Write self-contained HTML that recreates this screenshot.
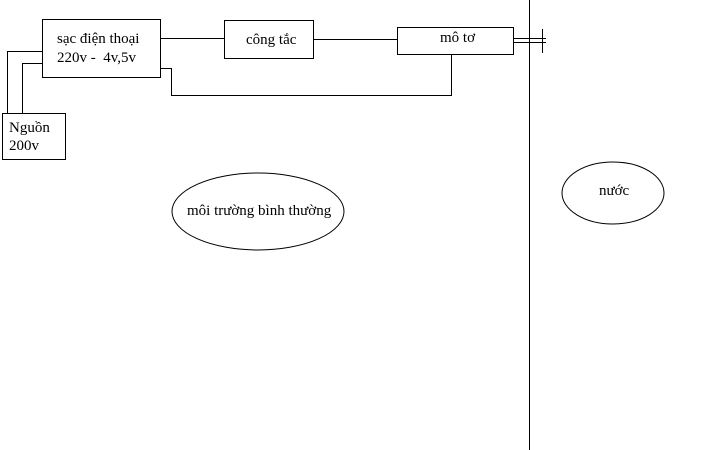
<!DOCTYPE html>
<html>
<head>
<meta charset="utf-8">
<style>
  html, body { margin: 0; padding: 0; background: #fff; }
  svg { display: block; }
  text { font-family: "Liberation Serif", "DejaVu Serif", serif; font-size: 15px; fill: #000; }
</style>
</head>
<body>
<svg width="720" height="450" viewBox="0 0 720 450" xmlns="http://www.w3.org/2000/svg">
  <g fill="none" stroke="#000" stroke-width="1" shape-rendering="crispEdges">
    <!-- sạc box -->
    <rect x="42.5" y="19.5" width="118" height="58"/>
    <!-- Nguồn box -->
    <rect x="2.5" y="113.5" width="63" height="46"/>
    <!-- công tắc box -->
    <rect x="224.5" y="20.5" width="89" height="38"/>
    <!-- mô tơ box -->
    <rect x="397.5" y="27.5" width="116" height="27"/>
    <!-- left connectors -->
    <polyline points="42,51.5 7.5,51.5 7.5,113"/>
    <polyline points="42,63.5 22.5,63.5 22.5,113"/>
    <!-- sạc -> công tắc -->
    <line x1="160" y1="38.5" x2="224" y2="38.5"/>
    <!-- công tắc -> mô tơ -->
    <line x1="313" y1="39.5" x2="397" y2="39.5"/>
    <!-- return line -->
    <polyline points="160,68.5 171.5,68.5 171.5,95.5 451.5,95.5 451.5,54"/>
    <!-- shaft -->
    <line x1="513" y1="38.5" x2="546" y2="38.5"/>
    <line x1="513" y1="42.5" x2="546" y2="42.5"/>
    <line x1="542.5" y1="29" x2="542.5" y2="53"/>
    <!-- divider -->
    <line x1="529.5" y1="0" x2="529.5" y2="450"/>
  </g>
  <g fill="none" stroke="#000" stroke-width="1">
    <ellipse cx="258" cy="211.5" rx="86" ry="38.5"/>
    <ellipse cx="613" cy="193" rx="51" ry="31"/>
  </g>
  <text x="57" y="43">sạc điện thoại</text>
  <text x="57" y="62" xml:space="preserve">220v -  4v,5v</text>
  <text x="9" y="132">Nguồn</text>
  <text x="9" y="150">200v</text>
  <text x="246" y="44">công tắc</text>
  <text x="440" y="42">mô tơ</text>
  <text x="187" y="215">môi trường bình thường</text>
  <text x="599" y="195">nước</text>
</svg>
</body>
</html>
